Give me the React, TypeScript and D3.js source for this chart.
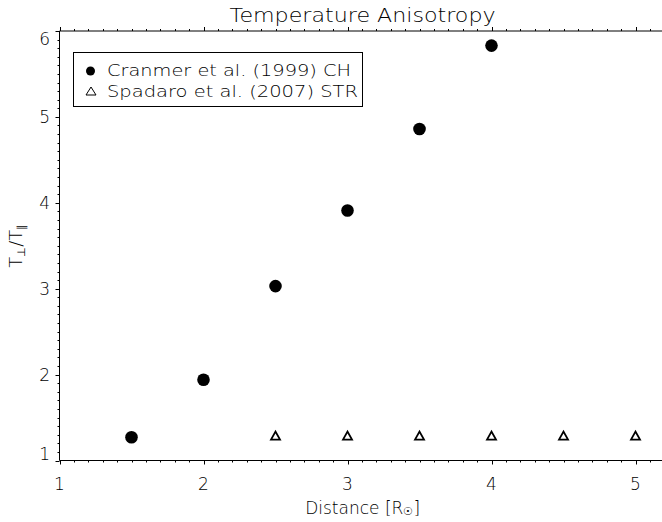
import React from "react";
import * as d3 from "d3";

const cranmerX = [1.5, 2.0, 2.5, 3.0, 3.5, 4.0];
const cranmerY = [1.27, 1.94, 3.03, 3.91, 4.86, 5.83];
const spadaroX = [2.5, 3.0, 3.5, 4.0, 4.5, 5.0];
const spadaroY = [1.29, 1.29, 1.29, 1.29, 1.29, 1.29];
const xTicks = [1, 2, 3, 4, 5];
const yTicks = [1, 2, 3, 4, 5, 6];
const legendLabels = ["Cranmer et al. (1999) CH", "Spadaro et al. (2007) STR"];
const titleText = "Temperature Anisotropy";

const W = 662;
const H = 522;
const FONT = "'DejaVu Sans', sans-serif";

export default function App() {
  const left = 59.5;
  const x = d3.scaleLinear().domain([1, 5]).range([left, left + 576]);
  const xRight = x(5.21);
  const y = d3.scaleLinear().domain([1, 6]).range([460.5, 31]);
  const top = y(6);
  const bottom = y(1);

  const xMinor = d3.range(10, 53).map((v) => v / 10).filter((v) => x(v) <= W + 2);
  const yMinor = d3.range(10, 61).map((v) => v / 10);

  const tri = (cx: number, cy: number, w: number, h: number) =>
    `M${cx - w / 2},${cy + h / 2}L${cx},${cy - h / 2}L${cx + w / 2},${cy + h / 2}Z`;

  const plotCenter = (left + xRight) / 2;

  return (
    <svg
      width={W}
      height={H}
      style={{ position: "absolute", left: 0, top: 0, background: "#fff" }}
      fontFamily={FONT}
      fontWeight={200}
    >
      <rect x={0} y={0} width={W} height={H} fill="#fff" />
      {/* title */}
      <text x={plotCenter} y={22} textAnchor="middle" fontSize={19} textLength={266} lengthAdjust="spacingAndGlyphs" fill="#000">
        {titleText}
      </text>

      {/* axes lines */}
      <line x1={left} x2={left} y1={top} y2={bottom} stroke="#000" strokeWidth={1} />
      <line x1={left} x2={xRight} y1={bottom} y2={bottom} stroke="#000" strokeWidth={1} />
      <line x1={left} x2={xRight} y1={top} y2={top} stroke="#000" strokeWidth={1} />

      {/* x ticks bottom & top */}
      {xMinor.map((v, i) => {
        const major = Math.abs(v - Math.round(v)) < 1e-6;
        const len = major ? 4 : 2;
        const px = Math.round(x(v)) + 0.5;
        return (
          <g key={"xm" + i}>
            <line x1={px} x2={px} y1={bottom} y2={bottom + len} stroke="#000" strokeWidth={1} />
            <line x1={px} x2={px} y1={top} y2={top - len} stroke="#000" strokeWidth={1} />
          </g>
        );
      })}
      {/* y ticks left */}
      {yMinor.map((v, i) => {
        const major = Math.abs(v - Math.round(v)) < 1e-6;
        const len = major ? 4 : 2;
        const py = Math.round(y(v)) + 0.5;
        return <line key={"ym" + i} x1={left} x2={left - len} y1={py} y2={py} stroke="#000" strokeWidth={1} />;
      })}

      {/* tick labels */}
      {xTicks.map((v) => (
        <text key={"xt" + v} x={x(v)} y={490} textAnchor="middle" fontSize={17} fill="#000">
          {v}
        </text>
      ))}
      {yTicks.map((v) => {
        const cy = Math.min(Math.max(y(v), top + 8), bottom - 7);
        return (
          <text key={"yt" + v} x={50} y={cy} dy="0.36em" textAnchor="end" fontSize={17} fill="#000">
            {v}
          </text>
        );
      })}

      {/* axis titles */}
      <text x={plotCenter} y={514} textAnchor="middle" fontSize={17} fill="#000">
        Distance [R
        <tspan fontSize={11} dy={1}>☉</tspan>
        <tspan dy={-1}>]</tspan>
      </text>
      <text transform={`translate(22, ${(top + bottom) / 2}) rotate(-90)`} textAnchor="middle" fontSize={18} fill="#000">
        T<tspan fontSize={11} dy={3}>⊥</tspan>
        <tspan dy={-3}>/T</tspan>
        <tspan fontSize={11} dy={3}>∥</tspan>
      </text>

      {/* data */}
      {cranmerX.map((v, i) => (
        <circle key={"c" + i} cx={x(v)} cy={y(cranmerY[i])} r={6.3} fill="#000" />
      ))}
      {spadaroX.map((v, i) => (
        <path key={"s" + i} d={tri(x(v), y(spadaroY[i]), 9, 8)} fill="none" stroke="#000" strokeWidth={1.8} strokeLinejoin="miter" />
      ))}

      {/* legend */}
      <rect x={73.5} y={52.5} width={289} height={54} fill="#fff" stroke="#000" strokeWidth={1} />
      <circle cx={90.5} cy={71} r={4.5} fill="#000" />
      <text x={107} y={76} fontSize={15} fill="#000" textLength={244} lengthAdjust="spacingAndGlyphs">
        {legendLabels[0]}
      </text>
      <path d={tri(91, 91, 10, 8)} fill="none" stroke="#000" strokeWidth={1} />
      <text x={107} y={97} fontSize={15} fill="#000" textLength={251} lengthAdjust="spacingAndGlyphs">
        {legendLabels[1]}
      </text>
    </svg>
  );
}
